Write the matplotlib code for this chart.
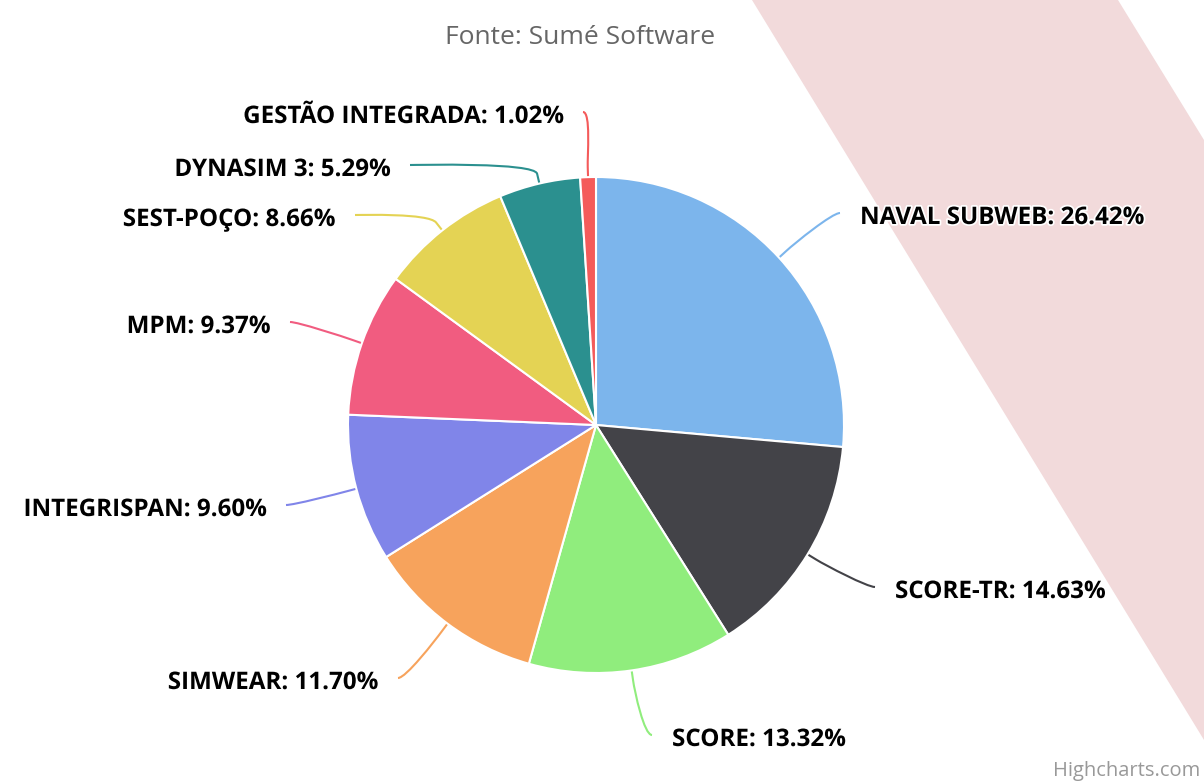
import numpy as np
import matplotlib.pyplot as plt
from matplotlib.patches import Polygon, PathPatch
from matplotlib.path import Path
import matplotlib.patheffects as pe

plt.rcParams['font.family'] = ['Open Sans', 'DejaVu Sans']

names = ['NAVAL SUBWEB', 'SCORE-TR', 'SCORE', 'SIMWEAR', 'INTEGRISPAN',
         'MPM', 'SEST-POÇO', 'DYNASIM 3', 'GESTÃO INTEGRADA']
shares = [26.42, 14.63, 13.32, 11.70, 9.60, 9.37, 8.66, 5.29, 1.02]
colors = ['#7cb5ec', '#434348', '#90ed7d', '#f7a35c', '#8085e9',
          '#f15c80', '#e4d354', '#2b908f', '#f45b5b']

# where each label sits (picture pixels): x of the text end nearest the pie, y of text centre
label_x = [860, 895, 672, 378, 266, 270, 335, 390, 563]
label_y = [218, 592, 740, 683, 510, 327, 220, 170, 117]

W, H = 1204, 782
fig = plt.figure(figsize=(W / 100, H / 100), dpi=100)
ax = fig.add_axes([0, 0, 1, 1])

cx, cy, r = 596, H - 425, 248

# pink diagonal band in the background
band = Polygon([(752, H), (1118, H), (W, H - 140), (W, H - 740)],
               closed=True, fc='#f2dadb', ec='none', zorder=0)
ax.add_patch(band)

wedges, _ = ax.pie(shares, colors=colors, startangle=90, counterclock=False,
                   center=(cx, cy), radius=r,
                   wedgeprops=dict(edgecolor='white', linewidth=1.5))
for w in wedges:
    w.set_zorder(2)

outline = [pe.withStroke(linewidth=2.5, foreground='white')]
for w, name, val, col, lx, ly in zip(wedges, names, shares, colors, label_x, label_y):
    ang = np.radians((w.theta1 + w.theta2) / 2)
    ux, uy = np.cos(ang), np.sin(ang)
    base = (cx + r * ux, cy + r * uy)
    brk = (cx + (r + 10) * ux, cy + (r + 10) * uy)
    ctl = (cx + (r + 22) * ux, cy + (r + 22) * uy)
    y = H - ly
    left_side = lx < cx
    sgn = 1 if left_side else -1
    p0 = (lx + sgn * 20, y + 5)
    p1 = (lx + sgn * 28, y + 5)
    path = Path([p0, p1, ctl, brk, base],
                [Path.MOVETO, Path.CURVE4, Path.CURVE4, Path.CURVE4, Path.LINETO])
    ax.add_patch(PathPatch(path, fc='none', ec=col, lw=1.5, zorder=1))
    ax.text(lx, y, f'{name}: {val:.2f}%', ha='right' if left_side else 'left',
            va='center', fontsize=17.4, fontweight='bold', color='black',
            path_effects=outline, zorder=3)

ax.text(580, H - 38, 'Fonte: Sumé Software', ha='center', va='center',
        fontsize=19, color='#666666')
ax.text(1200, H - 771, 'Highcharts.com', ha='right', va='center',
        fontsize=14.5, color='#999999')

ax.set_xlim(0, W)
ax.set_ylim(0, H)
ax.set_aspect('equal')
ax.axis('off')
fig.savefig('out.png', dpi=100, facecolor='white')
